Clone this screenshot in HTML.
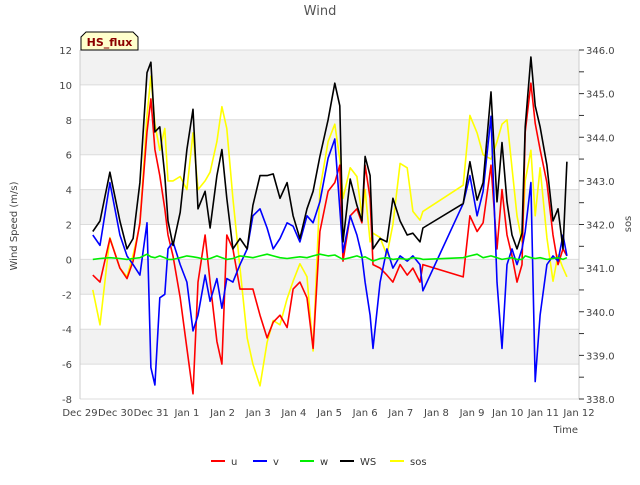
<!DOCTYPE html>
<html><head><meta charset="utf-8"><style>
body{margin:0;background:#fff;font-family:"Liberation Sans","DejaVu Sans",sans-serif;}
svg text{font-family:"DejaVu Sans","Liberation Sans",sans-serif;}
</style></head><body>
<svg id="chart" width="640" height="480" viewBox="0 0 640 480" xmlns="http://www.w3.org/2000/svg">
<g id="bands"></g>
<g id="grid"></g>
<g id="series"></g>
<g id="axes"></g>
<text x="320" y="15" text-anchor="middle" font-size="13" fill="#555">Wind</text>
<g>
<path d="M81,50 L81,37 L86,32 L133,32 L138,37 L138,50 Z" fill="#ffffcc" stroke="#000" stroke-width="1"/>
<text x="109.5" y="46" text-anchor="middle" font-size="11" font-weight="bold" fill="#8b0000">HS_flux</text>
</g>
<text transform="translate(17,226) rotate(-90)" text-anchor="middle" font-size="10" fill="#444">Wind Speed (m/s)</text>
<text transform="translate(631,224) rotate(-90)" text-anchor="middle" font-size="10" fill="#444">sos</text>
<text x="578" y="433" text-anchor="end" font-size="10" fill="#444">Time</text>
<g id="legend"></g>
</svg>
<script>
const times=[0.36,0.56,0.84,1.12,1.32,1.49,1.68,1.88,1.99,2.10,2.24,2.38,2.47,2.61,2.81,3.00,3.17,3.31,3.51,3.65,3.84,3.98,4.12,4.29,4.49,4.69,4.85,5.05,5.25,5.42,5.61,5.81,5.98,6.17,6.37,6.54,6.73,6.96,7.15,7.29,7.38,7.58,7.77,7.91,8.00,8.14,8.22,8.42,8.61,8.78,8.98,9.18,9.34,9.54,9.62,10.75,10.94,11.14,11.31,11.53,11.70,11.84,11.98,12.12,12.26,12.40,12.49,12.65,12.77,12.91,13.10,13.27,13.41,13.55,13.66];
const uVals=[-0.9,-1.3,1.2,-0.5,-1.1,-0.1,2.1,7.3,9.2,6.3,4.8,2.9,1.4,0.2,-2.2,-5.1,-7.7,-1.3,1.4,-1.3,-4.7,-6.0,1.4,0.6,-1.7,-1.7,-1.7,-3.2,-4.5,-3.6,-3.2,-3.9,-1.7,-1.3,-2.2,-5.1,1.6,3.9,4.4,5.4,-0.1,2.5,2.9,2.1,5.4,3.5,-0.3,-0.5,-0.9,-1.3,-0.3,-0.9,-0.5,-1.3,-0.3,-1.0,2.5,1.6,2.1,5.4,0.6,4.0,1.4,0.2,-1.3,-0.3,7.3,10.1,7.8,6.3,4.4,1.4,-0.3,0.6,0.2];
const vVals=[1.4,0.8,4.4,1.4,0.2,-0.3,-0.9,2.1,-6.2,-7.2,-2.2,-2.0,0.6,1.0,-0.3,-1.3,-4.1,-3.2,-0.9,-2.4,-1.1,-2.8,-1.1,-1.3,-0.3,0.6,2.5,2.9,1.8,0.6,1.2,2.1,1.9,1.0,2.5,2.1,3.3,5.8,6.9,2.9,0.4,2.5,1.4,0.2,-1.3,-3.2,-5.1,-1.3,0.6,-0.5,0.2,-0.1,0.2,-0.3,-1.8,3.2,4.8,2.5,3.9,8.2,-1.3,-5.1,-0.3,0.6,-0.3,0.6,1.6,4.4,-7.0,-3.2,-0.3,0.2,-0.1,1.4,0.2];
const wVals=[0.0,0.05,0.1,0.05,0.0,0.05,0.1,0.3,0.15,0.1,0.2,0.1,0.0,0.0,0.1,0.2,0.15,0.1,0.0,0.05,0.2,0.1,0.0,0.05,0.2,0.15,0.1,0.2,0.3,0.2,0.1,0.05,0.1,0.15,0.1,0.2,0.3,0.2,0.25,0.1,0.0,0.1,0.2,0.1,0.15,0.0,-0.1,0.05,0.1,0.0,0.05,0.0,0.1,0.05,0.0,0.1,0.2,0.3,0.1,0.2,0.1,0.0,0.05,0.1,0.0,0.0,0.2,0.1,0.05,0.1,0.0,0.05,0.1,0.0,0.1];
const wsVals=[1.6,2.2,5.0,2.2,0.6,1.2,4.4,10.7,11.3,7.3,7.6,4.8,2.2,0.8,2.7,6.3,8.6,2.9,3.9,1.8,4.8,6.3,3.5,0.6,1.2,0.6,3.1,4.8,4.8,4.9,3.5,4.4,2.5,1.2,2.9,3.9,5.9,8.0,10.1,8.8,1.0,4.6,3.1,2.2,5.9,4.8,0.6,1.2,1.0,3.5,2.2,1.4,1.5,1.0,1.8,3.2,5.6,3.4,4.4,9.6,3.3,6.7,3.3,1.4,0.6,1.5,7.6,11.6,8.8,7.6,5.4,2.2,2.9,0.6,5.6];
const sosVals=[340.5,339.7,341.7,341.0,340.8,341.3,342.0,344.5,345.4,344.3,343.7,344.2,343.0,343.0,343.1,342.8,344.1,342.8,343.0,343.2,343.9,344.7,344.2,342.6,341.0,339.4,338.8,338.3,339.3,339.8,339.7,340.3,340.7,341.1,340.8,339.1,342.8,343.9,344.3,343.5,342.6,343.3,343.1,342.2,342.8,341.6,341.8,341.7,341.3,342.0,343.4,343.3,342.3,342.1,342.3,342.9,344.5,344.1,343.6,343.5,343.9,344.3,344.4,343.3,342.2,341.6,343.0,343.7,342.2,343.3,341.7,340.7,341.3,341.0,340.8];
const xTickLabels=["Dec 29","Dec 30","Dec 31","Jan 1","Jan 2","Jan 3","Jan 4","Jan 5","Jan 6","Jan 7","Jan 8","Jan 9","Jan 10","Jan 11","Jan 12"];
const yTicks=[-8,-6,-4,-2,0,2,4,6,8,10,12];
const y2Ticks=[338,339,340,341,342,343,344,345,346];

const L=80,R=579,T=50,B=399;
const X=t=>L+t*(R-L)/14;
const Y=v=>T+(12-v)*(B-T)/20;
const Y2=s=>T+(346-s)*(B-T)/8;
const NS="http://www.w3.org/2000/svg";
function mk(tag,attrs,parent){const e=document.createElementNS(NS,tag);for(const k in attrs)e.setAttribute(k,attrs[k]);parent.appendChild(e);return e;}
const bands=document.getElementById('bands'),grid=document.getElementById('grid'),axes=document.getElementById('axes'),series=document.getElementById('series'),legend=document.getElementById('legend');
[[10,12],[6,8],[2,4],[-2,0],[-6,-4]].forEach(b=>{
 const r=mk('rect',{x:L,y:Y(b[1]),width:R-L,height:Y(b[0])-Y(b[1]),fill:'#f2f2f2'},bands);
 
 
});
yTicks.forEach(v=>{
 const g=mk('line',{x1:L,x2:R,y1:Y(v),y2:Y(v),stroke:'#dcdcdc','stroke-width':1},grid);
 
 
 const t=mk('text',{x:L-8,y:Y(v)+4,'text-anchor':'end','font-size':10,fill:'#444'},axes);
 t.textContent=v;
 
 
});
xTickLabels.forEach((lab,i)=>{
 const t=mk('text',{x:X(i),y:B+17,'text-anchor':'middle','font-size':10,fill:'#444'},axes);
 t.textContent=lab;
 
 
});
mk('line',{x1:L,x2:L,y1:T,y2:B,stroke:'#ccc'},axes);
mk('line',{x1:R,x2:R,y1:T,y2:B,stroke:'#ccc'},axes);
for(let s=338;s<=346.001;s+=0.5){mk('line',{x1:R,x2:R+5,y1:Y2(s),y2:Y2(s),stroke:'#333','stroke-width':1},axes);}
y2Ticks.forEach(s=>{
 const t=mk('text',{x:R+7,y:Y2(s)+4,'font-size':10,fill:'#444'},axes);
 t.textContent=s.toFixed(1);
 
 
});
function line(vals,yf,color,name,w){
 const pts=vals.map((v,i)=>X(times[i]).toFixed(1)+','+yf(v).toFixed(1)).join(' ');
 const p=mk('polyline',{points:pts,fill:'none',stroke:color,'stroke-width':w,'stroke-linejoin':'round'},series);
 
 
}
line(sosVals,Y2,'#ffff00','sos-line',1.6);
line(uVals,Y,'#ff0000','u-line',1.6);
line(vVals,Y,'#0000ff','v-line',1.6);
line(wVals,Y,'#00ee00','w-line',1.6);
line(wsVals,Y,'#000000','ws-line',1.6);
[["u","#ff0000",211],["v","#0000ff",253],["w","#00ee00",300],["WS","#000000",340],["sos","#ffff00",390]].forEach(e=>{
 const g=mk('g',{},legend);
 
 
 mk('line',{x1:e[2],x2:e[2]+14,y1:461,y2:461,stroke:e[1],'stroke-width':2},g);
 const t=mk('text',{x:e[2]+20,y:465,'font-size':10,fill:'#333'},g);
 t.textContent=e[0];
});
</script>
</body></html>
